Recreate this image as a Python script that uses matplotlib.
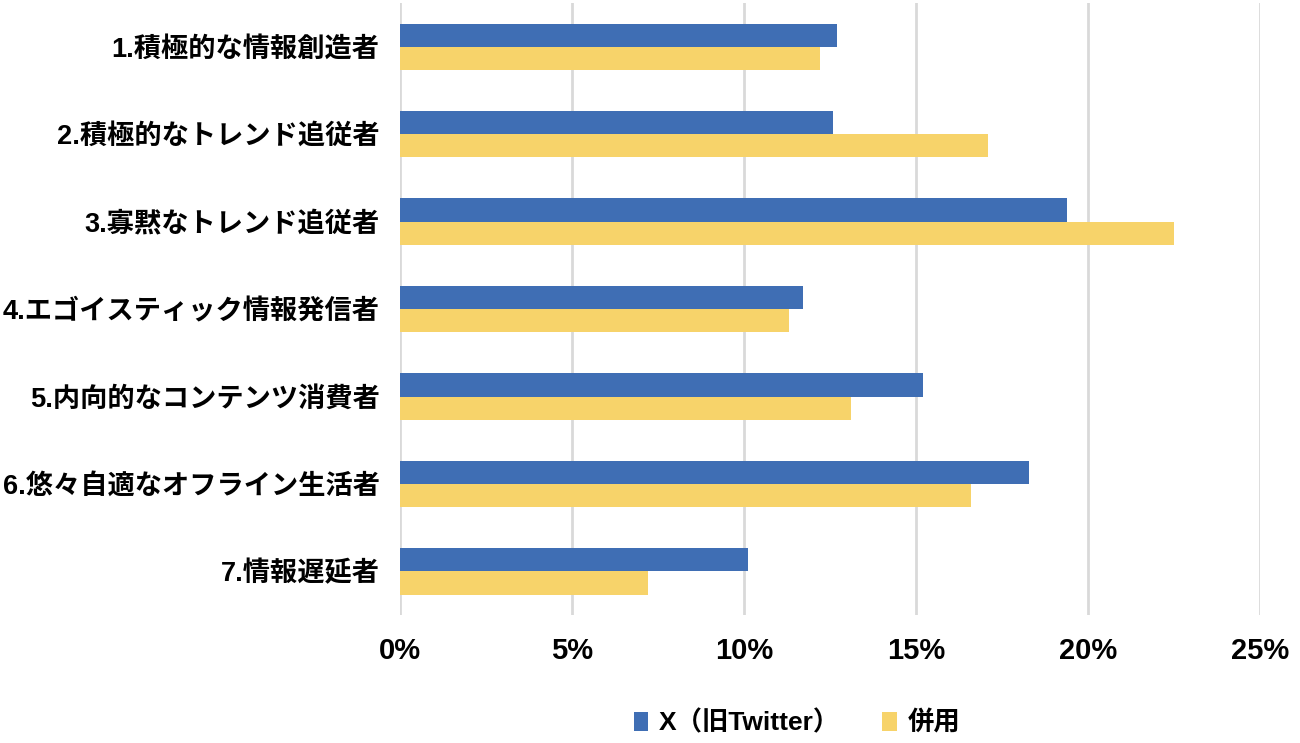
import matplotlib.pyplot as plt
import numpy as np

plt.rcParams['font.family'] = ['Liberation Sans', 'Noto Sans CJK JP', 'DejaVu Sans']

categories = ['1.積極的な情報創造者', '2.積極的なトレンド追従者', '3.寡黙なトレンド追従者',
              '4.エゴイスティック情報発信者', '5.内向的なコンテンツ消費者',
              '6.悠々自適なオフライン生活者', '7.情報遅延者']
x_twitter = [12.7, 12.6, 19.4, 11.7, 15.2, 18.3, 10.1]
heiyou = [12.2, 17.1, 22.5, 11.3, 13.1, 16.6, 7.2]
series_names = ['X（旧Twitter）', '併用']
xticks = [0, 5, 10, 15, 20, 25]

blue = '#3F6EB4'
yellow = '#F7D36A'

fig = plt.figure(figsize=(13, 7.43), dpi=100)
ax = fig.add_axes([0.308, 0.172, 0.661, 0.824])

y = np.arange(len(categories))
h = 0.265
ax.barh(y - h / 2, x_twitter, height=h, color=blue, label=series_names[0], zorder=3)
ax.barh(y + h / 2, heiyou, height=h, color=yellow, label=series_names[1], zorder=3)

ax.set_xlim(0, 25)
ax.set_ylim(len(categories) - 0.5, -0.5)
ax.set_xticks(xticks)
ax.set_xticklabels(['%d%%' % t for t in xticks], fontsize=21, fontweight='bold')
ax.set_yticks(y)
ax.set_yticklabels(categories, fontsize=19.6, fontweight='bold')
ax.tick_params(axis='both', length=0)
ax.tick_params(axis='x', pad=16)
ax.tick_params(axis='y', pad=15)
ax.grid(axis='x', color='#d9d9d9', linewidth=2, zorder=0)
for s in ax.spines.values():
    s.set_visible(False)

leg = fig.legend(loc='center', bbox_to_anchor=(0.613, 0.027), ncol=2, frameon=False,
                 prop={'size': 19, 'weight': 'bold'}, handlelength=0.55, handleheight=0.75,
                 handletextpad=0.4, columnspacing=1.6)

fig.savefig('out.png', dpi=100)
